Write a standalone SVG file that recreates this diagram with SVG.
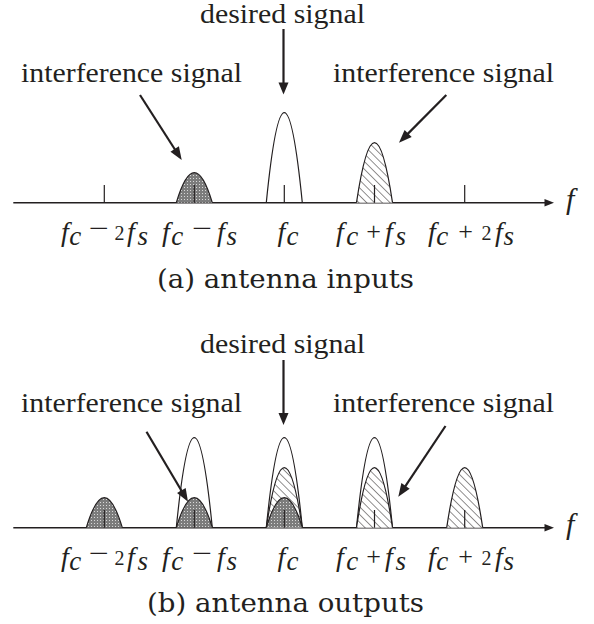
<svg xmlns="http://www.w3.org/2000/svg" width="594" height="624" viewBox="0 0 594 624">
<defs>
<pattern id="dots" patternUnits="userSpaceOnUse" width="3" height="3">
<rect width="3" height="3" fill="#7c7c7c"/>
<rect x="1" y="1" width="1" height="1" fill="#d8d8d8"/>
</pattern>
<pattern id="hatch" patternUnits="userSpaceOnUse" width="5.5" height="5.5" patternTransform="rotate(-45)">
<rect width="5.5" height="5.5" fill="#fff"/>
<line x1="0" y1="0" x2="0" y2="5.5" stroke="#231f20" stroke-width="1"/>
</pattern>
</defs>
<style>
.t{font-family:"Liberation Serif",serif;font-size:27px;fill:#231f20}
.cap{font-family:"DejaVu Serif",serif;font-size:26px;fill:#231f20}
.lab{font-family:"Liberation Serif",serif;fill:#231f20}
.i{font-style:italic}
.axis{stroke:#231f20;stroke-width:1.4;fill:none}
.tick{stroke:#231f20;stroke-width:1.2;fill:none}
.out{stroke:#231f20;stroke-width:1.2;fill:none}
.gray{stroke:#231f20;stroke-width:1.2;fill:url(#dots)}
.hat{stroke:#231f20;stroke-width:1.2;fill:url(#hatch)}
.arr{stroke:#231f20;stroke-width:2.2;fill:none}
.head{fill:#231f20;stroke:none}
</style>
<rect width="594" height="624" fill="#fff"/>

<!-- Panel (a) -->
<g id="axis-a">
<line class="axis" x1="13.3" y1="202.7" x2="546" y2="202.7"/>
<polygon class="head" points="554,202.7 544.5,199 544.5,206.4"/>
<text class="lab i" font-family="Liberation Serif" x="566" y="209" font-size="30">f</text>
</g>
<g id="tick-a-m2">
<line class="tick" x1="104.3" y1="185" x2="104.3" y2="202.7"/>
</g>
<g id="bump-a-m1">
<path class="gray" d="M176.3,202.7 Q194.3,142.7 212.3,202.7"/>
<line class="tick" x1="194.3" y1="185" x2="194.3" y2="202.7"/>
</g>
<g id="bump-a-0">
<path class="out" d="M266.3,202.7 Q284.3,22.7 302.3,202.7"/>
<line class="tick" x1="284.3" y1="185" x2="284.3" y2="202.7"/>
</g>
<g id="bump-a-p1">
<path class="hat" d="M356.5,202.7 Q374.5,82.7 392.5,202.7"/>
<line class="tick" x1="374.5" y1="185" x2="374.5" y2="202.7"/>
</g>
<g id="tick-a-p2">
<line class="tick" x1="464.7" y1="185" x2="464.7" y2="202.7"/>
</g>

<g id="labels-a">
<text id="desired-a" class="t" font-family="Liberation Serif" x="200" y="22.7" textLength="165" lengthAdjust="spacingAndGlyphs">desired signal</text>
<text id="interf-a-left" class="t" font-family="Liberation Serif" x="21" y="82.3" textLength="221" lengthAdjust="spacingAndGlyphs">interference signal</text>
<text id="interf-a-right" class="t" font-family="Liberation Serif" x="333" y="82.3" textLength="221" lengthAdjust="spacingAndGlyphs">interference signal</text>
<text class="lab" font-family="Liberation Serif"><tspan class="i" x="61" y="241" font-size="28">f</tspan><tspan class="i" x="69.3" y="245" font-size="27">c</tspan><tspan x="89" y="237.3" font-size="26" textLength="20" lengthAdjust="spacingAndGlyphs">−</tspan><tspan x="114.5" y="240" font-size="20">2</tspan><tspan class="i" x="127" y="241" font-size="28">f</tspan><tspan class="i" x="137.5" y="245" font-size="27">s</tspan></text>
<text class="lab" font-family="Liberation Serif"><tspan class="i" x="162" y="241" font-size="28">f</tspan><tspan class="i" x="171.3" y="245" font-size="27">c</tspan><tspan x="192.3" y="237.3" font-size="26" textLength="20" lengthAdjust="spacingAndGlyphs">−</tspan><tspan class="i" x="217" y="241" font-size="28">f</tspan><tspan class="i" x="226.5" y="245" font-size="27">s</tspan></text>
<text class="lab" font-family="Liberation Serif"><tspan class="i" x="277.4" y="241" font-size="28">f</tspan><tspan class="i" x="286.5" y="245" font-size="27">c</tspan></text>
<text class="lab" font-family="Liberation Serif"><tspan class="i" x="336" y="241" font-size="28">f</tspan><tspan class="i" x="346.3" y="245" font-size="27">c</tspan><tspan x="366.2" y="240" font-size="26">+</tspan><tspan class="i" x="385" y="241" font-size="28">f</tspan><tspan class="i" x="395.5" y="245" font-size="27">s</tspan></text>
<text class="lab" font-family="Liberation Serif"><tspan class="i" x="428" y="241" font-size="28">f</tspan><tspan class="i" x="436.3" y="245" font-size="27">c</tspan><tspan x="458.2" y="240" font-size="26">+</tspan><tspan x="481.4" y="240" font-size="20">2</tspan><tspan class="i" x="495" y="241" font-size="28">f</tspan><tspan class="i" x="503.5" y="245" font-size="27">s</tspan></text>
<text id="caption-a" class="cap" x="157" y="288" textLength="257" lengthAdjust="spacingAndGlyphs">(a) antenna inputs</text>
</g>

<!-- Panel (b) -->
<g id="axis-b">
<line class="axis" x1="13.3" y1="527.7" x2="546" y2="527.7"/>
<polygon class="head" points="554,527.7 544.5,524 544.5,531.4"/>
<text class="lab i" font-family="Liberation Serif" x="566" y="534" font-size="30">f</text>
</g>
<g id="bump-b-m2">
<path class="gray" d="M86.3,527.7 Q104.3,467.7 122.3,527.7"/>
<line class="tick" x1="104.3" y1="510" x2="104.3" y2="527.7"/>
</g>
<g id="bump-b-m1">
<path class="out" d="M176.3,527.7 Q194.3,347.7 212.3,527.7"/>
<path class="gray" d="M176.3,527.7 Q194.3,467.7 212.3,527.7"/>
<line class="tick" x1="194.3" y1="510" x2="194.3" y2="527.7"/>
</g>
<g id="bump-b-0">
<path class="out" d="M266.3,527.7 Q284.3,347.7 302.3,527.7"/>
<path class="hat" d="M266.3,527.7 Q284.3,407.7 302.3,527.7"/>
<path class="gray" d="M266.3,527.7 Q284.3,467.7 302.3,527.7"/>
<line class="tick" x1="284.3" y1="510" x2="284.3" y2="527.7"/>
</g>
<g id="bump-b-p1">
<path class="out" d="M356.5,527.7 Q374.5,347.7 392.5,527.7"/>
<path class="hat" d="M356.5,527.7 Q374.5,407.7 392.5,527.7"/>
<line class="tick" x1="374.5" y1="510" x2="374.5" y2="527.7"/>
</g>
<g id="bump-b-p2">
<path class="hat" d="M446.7,527.7 Q464.7,407.7 482.7,527.7"/>
<line class="tick" x1="464.7" y1="510" x2="464.7" y2="527.7"/>
</g>

<g id="labels-b">
<text id="desired-b" class="t" font-family="Liberation Serif" x="200" y="353" textLength="165" lengthAdjust="spacingAndGlyphs">desired signal</text>
<text id="interf-b-left" class="t" font-family="Liberation Serif" x="21" y="412.3" textLength="221" lengthAdjust="spacingAndGlyphs">interference signal</text>
<text id="interf-b-right" class="t" font-family="Liberation Serif" x="333" y="412.3" textLength="221" lengthAdjust="spacingAndGlyphs">interference signal</text>
<text class="lab" font-family="Liberation Serif"><tspan class="i" x="61" y="566" font-size="28">f</tspan><tspan class="i" x="69.3" y="570" font-size="27">c</tspan><tspan x="89" y="562.3" font-size="26" textLength="20" lengthAdjust="spacingAndGlyphs">−</tspan><tspan x="114.5" y="565" font-size="20">2</tspan><tspan class="i" x="127" y="566" font-size="28">f</tspan><tspan class="i" x="137.5" y="570" font-size="27">s</tspan></text>
<text class="lab" font-family="Liberation Serif"><tspan class="i" x="162" y="566" font-size="28">f</tspan><tspan class="i" x="171.3" y="570" font-size="27">c</tspan><tspan x="192.3" y="562.3" font-size="26" textLength="20" lengthAdjust="spacingAndGlyphs">−</tspan><tspan class="i" x="217" y="566" font-size="28">f</tspan><tspan class="i" x="226.5" y="570" font-size="27">s</tspan></text>
<text class="lab" font-family="Liberation Serif"><tspan class="i" x="277.4" y="566" font-size="28">f</tspan><tspan class="i" x="286.5" y="570" font-size="27">c</tspan></text>
<text class="lab" font-family="Liberation Serif"><tspan class="i" x="336" y="566" font-size="28">f</tspan><tspan class="i" x="346.3" y="570" font-size="27">c</tspan><tspan x="366.2" y="565" font-size="26">+</tspan><tspan class="i" x="385" y="566" font-size="28">f</tspan><tspan class="i" x="395.5" y="570" font-size="27">s</tspan></text>
<text class="lab" font-family="Liberation Serif"><tspan class="i" x="428" y="566" font-size="28">f</tspan><tspan class="i" x="436.3" y="570" font-size="27">c</tspan><tspan x="458.2" y="565" font-size="26">+</tspan><tspan x="481.4" y="565" font-size="20">2</tspan><tspan class="i" x="495" y="566" font-size="28">f</tspan><tspan class="i" x="503.5" y="570" font-size="27">s</tspan></text>
<text id="caption-b" class="cap" x="147" y="612" textLength="277" lengthAdjust="spacingAndGlyphs">(b) antenna outputs</text>
</g>

<!-- Connectors -->
<g id="connectors">
<line class="arr" x1="283.5" y1="29" x2="283.5" y2="84"/>
<polygon class="head" points="283.5,94.5 278.5,82.5 288.5,82.5"/>
<line class="arr" x1="140" y1="95" x2="175.76" y2="150.74"/>
<polygon class="head" points="181.7,160 170.47,151.75 178.89,146.35"/>
<line class="arr" x1="446.3" y1="95" x2="406.74" y2="134.89"/>
<polygon class="head" points="399,142.7 404.6,129.95 411.7,136.99"/>
<line class="arr" x1="283.5" y1="360" x2="283.5" y2="414.5"/>
<polygon class="head" points="283.5,425 278.5,413 288.5,413"/>
<line class="arr" x1="146.5" y1="431.7" x2="182.39" y2="492.24"/>
<polygon class="head" points="188,501.7 177.07,493.07 185.67,487.97"/>
<line class="arr" x1="445.5" y1="426" x2="404.4" y2="487.55"/>
<polygon class="head" points="398.3,496.7 401.36,483.1 409.68,488.66"/>
</g>
</svg>
